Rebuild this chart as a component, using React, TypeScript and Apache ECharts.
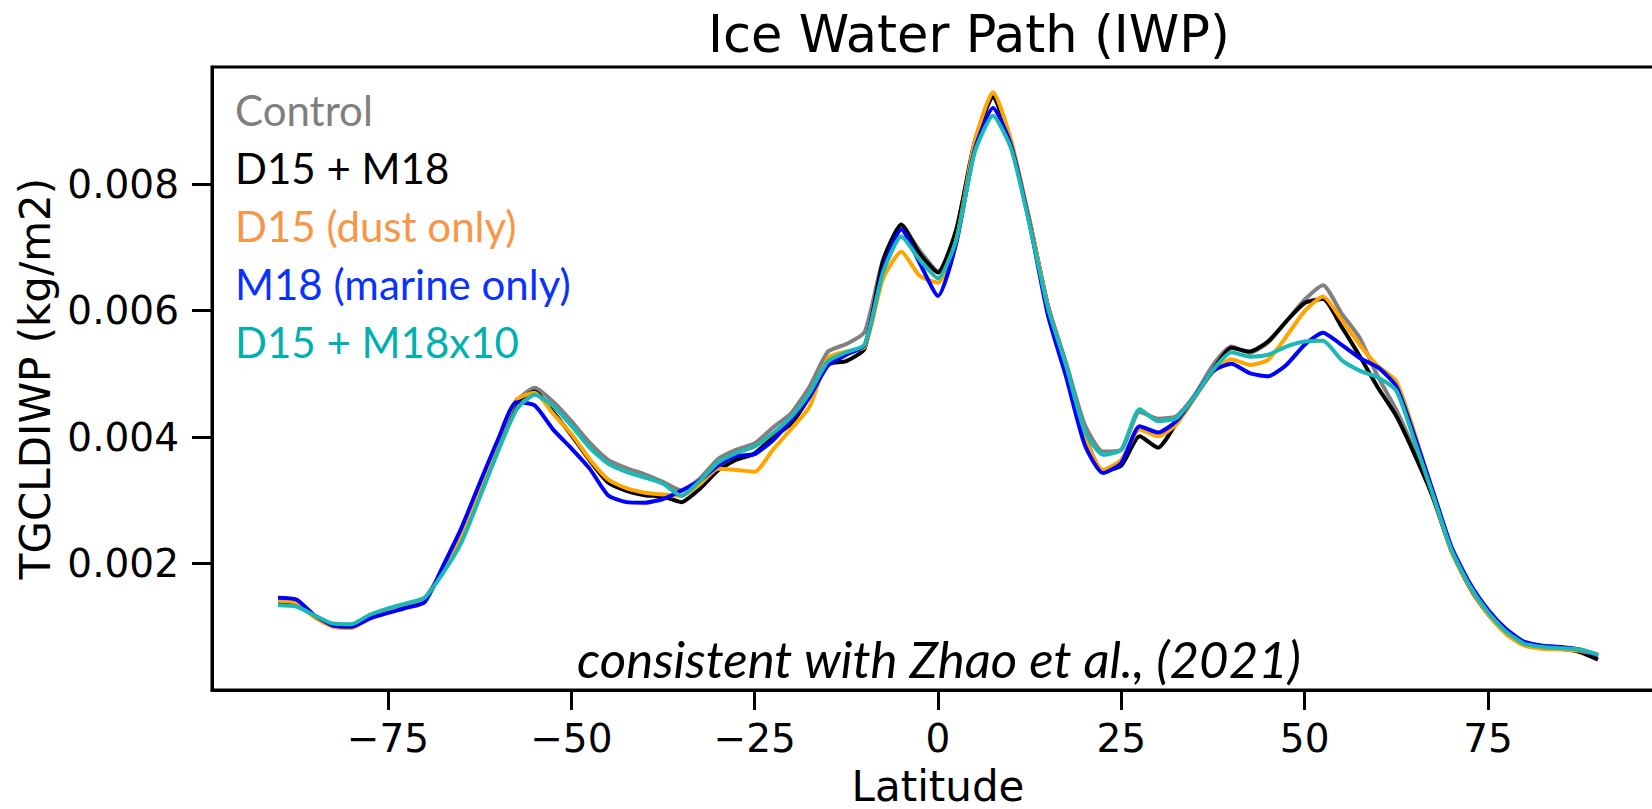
import { useEffect, useRef } from 'react';
import * as echarts from 'echarts';

// Zonal-mean latitude grid (degrees)
const latitude = [
  -90, -87.5, -85, -82.5, -80, -77.5, -75, -72.5, -70, -67.5, -65, -62.5, -60, -57.5, -55, -52.5,
  -50, -47.5, -45, -42.5, -40, -37.5, -35, -32.5, -30, -27.5, -25, -22.5, -20, -17.5, -15, -12.5,
  -10, -7.5, -5, -2.5, 0, 2.5, 5, 7.5, 10, 12.5, 15, 17.5, 20, 22.5, 25, 27.5, 30, 32.5, 35, 37.5,
  40, 42.5, 45, 47.5, 50, 52.5, 55, 57.5, 60, 62.5, 65, 67.5, 70, 72.5, 75, 77.5, 80, 82.5, 85,
  87.5, 90,
];

// TGCLDIWP (kg/m2) per experiment
const control = [
  0.0014, 0.00137, 0.00117, 0.00103, 0.00101, 0.00116, 0.00126, 0.00135, 0.00145, 0.00191, 0.00246,
  0.0032, 0.00388, 0.00456, 0.00478, 0.00456, 0.00425, 0.00391, 0.00364, 0.00351, 0.00341, 0.00329,
  0.00316, 0.00334, 0.00365, 0.0038, 0.0039, 0.00415, 0.00438, 0.0048, 0.00535, 0.00547, 0.00566,
  0.0068, 0.00732, 0.00695, 0.00662, 0.00728, 0.00866, 0.00937, 0.0086, 0.00742, 0.00608, 0.00516,
  0.0042, 0.00377, 0.0038, 0.0044, 0.00429, 0.00433, 0.00466, 0.00514, 0.00543, 0.00533, 0.00549,
  0.00583, 0.00617, 0.0064, 0.00596, 0.00557, 0.00495, 0.00443, 0.00378, 0.00306, 0.00222, 0.00164,
  0.00122, 0.00092, 0.00074, 0.00068, 0.00066, 0.00063, 0.00053,
];
const d15m18 = [
  0.0014, 0.00137, 0.00116, 0.00102, 0.001, 0.00115, 0.00125, 0.00134, 0.00143, 0.00191, 0.00246,
  0.0032, 0.0039, 0.00454, 0.00472, 0.0044, 0.00403, 0.00363, 0.00328, 0.00315, 0.00308, 0.00306,
  0.00297, 0.00318, 0.00347, 0.00364, 0.00374, 0.004, 0.00421, 0.00464, 0.00515, 0.0052, 0.0054,
  0.00678, 0.00736, 0.0069, 0.0066, 0.00728, 0.00866, 0.00937, 0.0086, 0.0074, 0.00606, 0.0051,
  0.00402, 0.00346, 0.00355, 0.00401, 0.00383, 0.00422, 0.00464, 0.00506, 0.00541, 0.00535, 0.00551,
  0.00583, 0.00612, 0.00618, 0.00575, 0.00528, 0.00478, 0.00433, 0.00372, 0.00304, 0.0022, 0.00162,
  0.0012, 0.00089, 0.00072, 0.00067, 0.00065, 0.0006, 0.00048,
];
const d15Dust = [
  0.00141, 0.00138, 0.00115, 0.001, 0.00098, 0.00114, 0.00125, 0.00134, 0.00143, 0.00191, 0.00246,
  0.0032, 0.00393, 0.00459, 0.0047, 0.00437, 0.00405, 0.00365, 0.00333, 0.00319, 0.00312, 0.00309,
  0.00307, 0.00325, 0.0035, 0.00348, 0.00345, 0.0038, 0.00413, 0.00448, 0.00525, 0.00535, 0.00542,
  0.0065, 0.00693, 0.00655, 0.00644, 0.00712, 0.00867, 0.00945, 0.00868, 0.00742, 0.00606, 0.0051,
  0.004, 0.00348, 0.00364, 0.00412, 0.00401, 0.0042, 0.00462, 0.00503, 0.00523, 0.00514, 0.00522,
  0.00559, 0.00599, 0.00622, 0.00586, 0.00546, 0.00512, 0.00488, 0.00406, 0.00309, 0.0022, 0.00163,
  0.0012, 0.00088, 0.0007, 0.00065, 0.00064, 0.00062, 0.00056,
];
const m18Marine = [
  0.00146, 0.00143, 0.00118, 0.00102, 0.001, 0.00113, 0.00122, 0.0013, 0.00139, 0.00196, 0.00256,
  0.00327, 0.00396, 0.00455, 0.0045, 0.00412, 0.00382, 0.0035, 0.00308, 0.00297, 0.00296, 0.00302,
  0.00315, 0.00331, 0.00355, 0.0037, 0.00373, 0.00395, 0.00427, 0.00464, 0.00513, 0.0053, 0.00545,
  0.00665, 0.00728, 0.00675, 0.00623, 0.00707, 0.00854, 0.0092, 0.0086, 0.00737, 0.00592, 0.00494,
  0.00388, 0.00343, 0.00359, 0.00417, 0.00407, 0.00425, 0.00464, 0.00504, 0.00516, 0.00501, 0.00496,
  0.00514, 0.00546, 0.00565, 0.00546, 0.00525, 0.0051, 0.0048, 0.00401, 0.00314, 0.00227, 0.00169,
  0.00127, 0.00096, 0.00076, 0.0007, 0.00068, 0.00064, 0.00055,
];
const d15m18x10 = [
  0.00134, 0.00132, 0.00118, 0.00105, 0.00104, 0.00119, 0.00129, 0.00137, 0.00146, 0.00185, 0.00233,
  0.00304, 0.00377, 0.00443, 0.00467, 0.00449, 0.00418, 0.00383, 0.00358, 0.00345, 0.00336, 0.00326,
  0.00307, 0.0033, 0.0036, 0.00375, 0.00385, 0.00406, 0.00432, 0.0047, 0.0052, 0.00534, 0.00546,
  0.0066, 0.00717, 0.0068, 0.00651, 0.00712, 0.0085, 0.00908, 0.00855, 0.00735, 0.00604, 0.00512,
  0.0041, 0.00372, 0.0038, 0.00444, 0.00425, 0.0043, 0.00464, 0.00506, 0.00534, 0.00527, 0.0053,
  0.00543, 0.00551, 0.00552, 0.00522, 0.00505, 0.00494, 0.00473, 0.00393, 0.00308, 0.00222, 0.00165,
  0.00123, 0.00092, 0.00073, 0.00068, 0.00066, 0.00064, 0.00056,
];

const seriesNames = ['Control', 'D15 + M18', 'D15 (dust only)', 'M18 (marine only)', 'D15 + M18x10'];
const seriesValues = [control, d15m18, d15Dust, m18Marine, d15m18x10];
const lineColors = ['#808080', '#000000', '#FFA500', '#0000FF', '#1CB9B4'];
const legendColors = ['#7F7F7F', '#000000', '#F79646', '#0A32FF', '#00B0B0'];

const xTicks = [-75, -50, -25, 0, 25, 50, 75];
const yTicks = [0.002, 0.004, 0.006, 0.008];

const PLOT_FONT = '"DejaVu Sans", sans-serif';
const NOTE_FONT = 'Lato, "Open Sans", sans-serif';

export default function App() {
  const ref = useRef<HTMLDivElement>(null);

  useEffect(() => {
    if (!ref.current) return;
    const chart = echarts.init(ref.current, null, { renderer: 'svg' });

    const option: any = {
      animation: false,
      backgroundColor: '#ffffff',
      title: {
        text: 'Ice Water Path (IWP)',
        left: 708,
        top: 9,
        padding: 0,
        textStyle: { fontFamily: PLOT_FONT, fontSize: 51, fontWeight: 'normal', color: '#000' },
      },
      legend: {
        orient: 'vertical',
        left: 230,
        top: 89,
        padding: 0,
        itemGap: 16,
        itemWidth: 0,
        itemHeight: 0,
        icon: 'none',
        selectedMode: false,
        textStyle: { fontFamily: NOTE_FONT, fontSize: 42 },
        data: seriesNames.map((name, i) => ({
          name,
          icon: 'none',
          textStyle: { color: legendColors[i] },
        })),
      },
      grid: {
        left: 212,
        top: 67,
        width: 1452,
        height: 623,
        show: true,
        borderColor: '#000',
        borderWidth: 3,
        backgroundColor: 'transparent',
        containLabel: false,
        outerBoundsMode: 'none',
      },
      xAxis: {
        type: 'value',
        min: -99,
        max: 99,
        name: 'Latitude',
        nameLocation: 'middle',
        nameGap: 75,
        nameTextStyle: { fontFamily: PLOT_FONT, fontSize: 42, color: '#000' },
        axisLine: { show: true, onZero: false, lineStyle: { color: '#000', width: 3 } },
        axisTick: {
          show: true,
          inside: false,
          length: 20,
          customValues: xTicks,
          lineStyle: { color: '#000', width: 3 },
        },
        axisLabel: {
          customValues: xTicks,
          margin: 29,
          fontFamily: PLOT_FONT,
          fontSize: 39,
          color: '#000',
          formatter: (v: number) => (v < 0 ? '\u2212' + Math.abs(v) : String(v)),
        },
        splitLine: { show: false },
      },
      yAxis: {
        type: 'value',
        min: 0,
        max: 0.00985,
        name: 'TGCLDIWP (kg/m2)',
        nameLocation: 'middle',
        nameGap: 156,
        nameTextStyle: { fontFamily: PLOT_FONT, fontSize: 42, color: '#000' },
        axisLine: { show: true, onZero: false, lineStyle: { color: '#000', width: 3 } },
        axisTick: {
          show: true,
          inside: false,
          length: 20,
          customValues: yTicks,
          lineStyle: { color: '#000', width: 3 },
        },
        axisLabel: {
          customValues: yTicks,
          margin: 33,
          fontFamily: PLOT_FONT,
          fontSize: 39,
          color: '#000',
          formatter: (v: number) => v.toFixed(3),
        },
        splitLine: { show: false },
      },
      graphic: [
        {
          type: 'text',
          left: 577,
          top: 633,
          silent: true,
          style: {
            text: 'consistent with Zhao et al., (2021)',
            fontFamily: NOTE_FONT,
            fontStyle: 'italic',
            fontSize: 51,
            fill: '#000',
          },
        },
      ],
      series: seriesNames.map((name, i) => ({
        name,
        type: 'line',
        data: latitude.map((lat, k) => [lat, seriesValues[i][k]]),
        showSymbol: false,
        symbol: 'none',
        smooth: 0.2,
        lineStyle: { color: lineColors[i], width: 4 },
        itemStyle: { color: lineColors[i] },
        emphasis: { disabled: true },
      })),
    };

    chart.setOption(option);
    return () => chart.dispose();
  }, []);

  return (
    <div
      ref={ref}
      style={{ position: 'absolute', left: 0, top: 0, width: 1652, height: 809, background: '#fff' }}
    />
  );
}
